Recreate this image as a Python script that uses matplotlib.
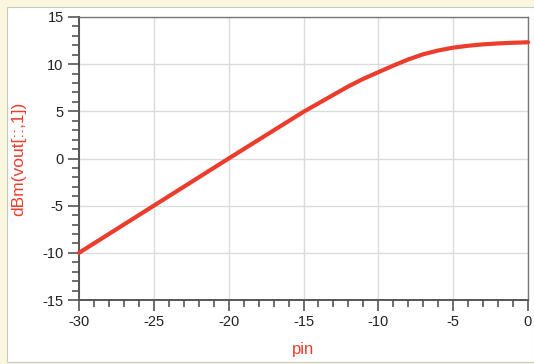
import matplotlib
matplotlib.use("Agg")
import matplotlib.pyplot as plt
from matplotlib.patches import Rectangle
from matplotlib.ticker import MultipleLocator

pin = [-30, -25, -20, -15, -13, -12, -11, -10, -9, -8, -7, -6, -5, -4, -3, -2, -1, 0]
pout = [-10, -5, 0, 4.95, 6.75, 7.65, 8.45, 9.15, 9.85, 10.5, 11.05, 11.45, 11.75, 11.95, 12.1, 12.2, 12.27, 12.32]

xticks = [-30, -25, -20, -15, -10, -5, 0]
yticks = [-15, -10, -5, 0, 5, 10, 15]

plt.rcParams['font.family'] = ['Liberation Sans', 'DejaVu Sans']
plt.rcParams['axes.unicode_minus'] = False

fig = plt.figure(figsize=(5.34, 3.64), dpi=100)
fig.patch.set_facecolor('#fbf7df')
bg = Rectangle((7/534, 2/364), 1 - 7/534, 1 - 9/364, transform=fig.transFigure,
               facecolor='white', edgecolor='#c8c8c8', linewidth=0.8, zorder=-10)
fig.patches.append(bg)

ax = fig.add_axes([79/534, 64/364, 449/534, 283/364])
ax.set_zorder(5)
ax.set_facecolor('none')
ax.plot(pin, pout, color='#ec3d2c', linewidth=3.0, solid_capstyle='round', zorder=3, clip_on=False)

ax.set_xlim(-30, 0)
ax.set_ylim(-15, 15)
ax.set_xticks(xticks)
ax.set_yticks(yticks)
ax.xaxis.set_minor_locator(MultipleLocator(1))
ax.yaxis.set_minor_locator(MultipleLocator(1))
ax.grid(True, which='major', color='#d8dcdc', linewidth=1.0)
ax.tick_params(which='major', length=8, width=1.2, color='#555555', labelsize=10.5, labelcolor='#222222', pad=3)
ax.tick_params(which='minor', length=5, width=1.2, color='#555555')

for s in ['left', 'bottom']:
    ax.spines[s].set_color('#555555')
    ax.spines[s].set_linewidth(1.4)
for s in ['top', 'right']:
    ax.spines[s].set_color('#777777')
    ax.spines[s].set_linewidth(1.0)

ax.set_xlabel('pin', color='#ec3d2c', fontsize=12)
ax.set_ylabel('dBm(vout[::,1])', color='#ec3d2c', fontsize=12.5)
ax.xaxis.set_label_coords(0.5, -0.148)
ax.yaxis.set_label_coords(-0.118, 0.5)

fig.savefig('out.png', dpi=100, facecolor=fig.get_facecolor())
